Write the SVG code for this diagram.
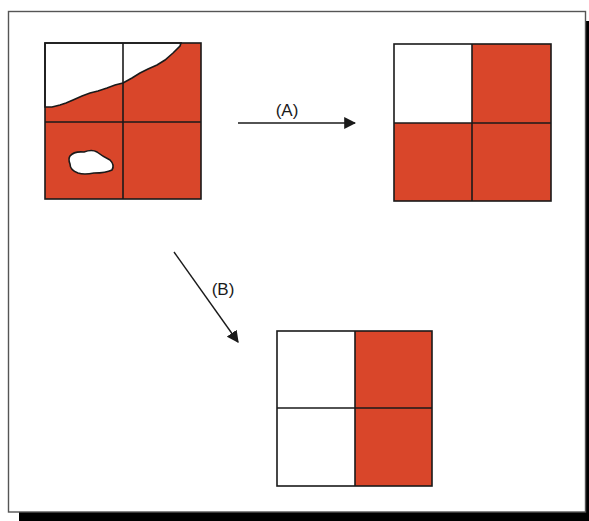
<svg xmlns="http://www.w3.org/2000/svg" width="589" height="521" viewBox="0 0 589 521">
<style>
.red{fill:#d9462a}
.grid{fill:none;stroke:#1a1a1a;stroke-width:1.6}
.blob{stroke:#1a1a1a;stroke-width:1.6}
.conn{stroke:#1a1a1a;stroke-width:1.4;fill:none}
.lbl{font-family:"Liberation Sans",Arial,sans-serif;font-size:17px;fill:#1a1a1a}
</style>
<defs>
<marker id="ah" viewBox="0 0 10 10" refX="9" refY="5" markerWidth="12" markerHeight="12" markerUnits="userSpaceOnUse" orient="auto">
<path d="M0,0 L10,5 L0,10 Z" fill="#1a1a1a"/>
</marker>
</defs>
<rect x="19" y="21" width="570" height="500" fill="#000"/>
<rect x="8.5" y="11.5" width="577" height="500.5" fill="#fff" stroke="#555" stroke-width="1.4"/>
<g id="grid-initial">
<rect x="45" y="43" width="156" height="156" class="red"/>
<path d="M45,43 L181,43 L180,46 L173,53 L165,60 L157,65 L148,69 L140,73 L132,78 L123,83 L115,85 L107,88 L98,91 L90,93 L82,96 L73,100 L66,103 L60,105 L52,107 L45,107 Z" fill="#fff" class="blob"/>
<path d="M70,156 Q74,151 84,152 Q92,149 97,152 Q102,156 110,160 Q115,165 112,170 Q106,173 94,173 Q84,175 78,173 Q70,170 70,164 Q68,159 70,156 Z" fill="#fff" class="blob"/>
<rect x="45" y="43" width="156" height="156" class="grid"/>
<line x1="123" y1="43" x2="123" y2="199" class="grid"/>
<line x1="45" y1="122" x2="201" y2="122" class="grid"/>
</g>
<g id="grid-a">
<rect x="472" y="44" width="79" height="79" class="red"/>
<rect x="394" y="123" width="157" height="78" class="red"/>
<rect x="394" y="44" width="157" height="157" class="grid"/>
<line x1="472" y1="44" x2="472" y2="201" class="grid"/>
<line x1="394" y1="123" x2="551" y2="123" class="grid"/>
</g>
<g id="grid-b">
<rect x="355" y="331" width="77" height="155" class="red"/>
<rect x="277" y="331" width="155" height="155" class="grid"/>
<line x1="355" y1="331" x2="355" y2="486" class="grid"/>
<line x1="277" y1="408" x2="432" y2="408" class="grid"/>
</g>
<g id="connectors">
<line x1="238" y1="123" x2="355" y2="123" class="conn" marker-end="url(#ah)"/>
<line x1="174" y1="252" x2="238" y2="342" class="conn" marker-end="url(#ah)"/>
</g>
<g id="labels">
<text x="287" y="116" text-anchor="middle" class="lbl">(A)</text>
<text x="223" y="295" text-anchor="middle" class="lbl">(B)</text>
</g>
</svg>
